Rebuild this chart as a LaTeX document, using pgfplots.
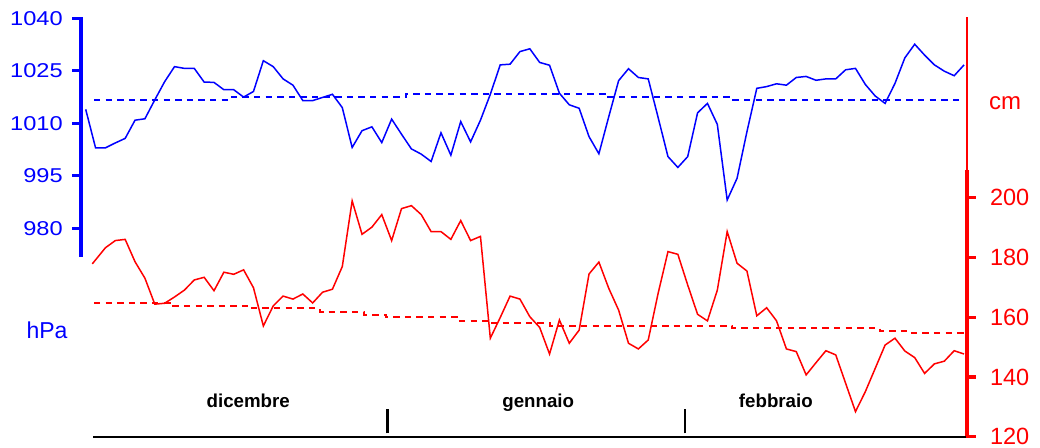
\documentclass[border=0pt]{standalone}
\usepackage{pgfplots}
\pgfplotsset{compat=1.18}
\usepackage{fontspec}
\setmainfont{Liberation Sans}
\newfontfamily\wideLS[FakeStretch=1.18]{Liberation Sans}
\definecolor{pblue}{RGB}{0,0,255}
\definecolor{pred}{RGB}{255,0,0}
\begin{document}
\begin{tikzpicture}
\path[use as bounding box] (0,0) rectangle (520pt,224pt);
% ---------------- red axis (cm) ----------------
\begin{axis}[
  at={(40.5pt,5.65pt)}, anchor=south west,
  scale only axis, width=443pt, height=209.7pt,
  xmin=-0.476, xmax=89.3, ymin=120, ymax=260.5,
  axis y line*=right, axis x line=none, xtick=\empty,
  ytick={120,140,160,180,200},
  yticklabels={120,140,160,180,200},
  y axis line style={pred, line width=0.6pt},
  ytick style={pred, line width=1pt},
  major tick length=4pt, tick align=outside,
  yticklabel style={font=\fontsize{11.75}{12}\selectfont, text=pred, anchor=west, xshift=4pt},
  clip=false,
]
\draw[pred, line width=1.65pt] (axis cs:89.3,120) -- (axis cs:89.3,209.4);
\draw[black, line width=1pt] (axis cs:0.74,120) -- (axis cs:89.3,120);
\draw[black, line width=1.3pt] (axis cs:30.55,121.1) -- (axis cs:30.55,129.2);
\draw[black, line width=1.3pt] (axis cs:60.71,121.1) -- (axis cs:60.71,129.2);
\node[anchor=base, font=\bfseries\fontsize{9.35}{10}\selectfont] at (axis cs:16.47,129.85) {dicembre};
\node[anchor=base, font=\bfseries\fontsize{9.35}{10}\selectfont] at (axis cs:45.85,129.85) {gennaio};
\node[anchor=base, font=\bfseries\fontsize{9.35}{10}\selectfont] at (axis cs:69.93,129.85) {febbraio};
% mean level (dashed)
\addplot[pred, line width=1pt, dash pattern=on 3.2pt off 2.6pt] coordinates {
(0.85,164.9) (8.5,164.9) (8.5,163.9) (16.6,163.9) (16.6,163.0) (23.7,163.0)
(23.7,161.9) (28.2,161.9) (28.2,160.9) (30.4,160.9) (30.4,160.2) (37.6,160.2)
(37.6,158.9) (40.7,158.9) (40.7,158.0) (47.0,158.0) (47.0,157.0) (65.5,157.0)
(65.5,156.3) (80.5,156.3) (80.5,155.4) (83.7,155.4) (83.7,154.8) (89.1,154.8)
};
% water level
\addplot[pred, line width=0.75pt] coordinates {
(0.67,177.9) (2,183.3) (3,185.7) (4,186.1) (5,178.6) (6,173.1) (7,164.4) (8,164.7)
(9,166.8) (10,169.1) (11,172.5) (12,173.4) (13,168.9) (14,175.1) (15,174.4) (16,175.9)
(17,169.9) (18,157.1) (19,163.8) (20,167.1) (21,166.1) (22,167.8) (23,164.8) (24,168.4)
(25,169.4) (26,177.0) (27,199.0) (28,187.8) (29,190.2) (30,194.4) (31,185.7) (32,196.4)
(33,197.4) (34,194.4) (35,188.7) (36,188.7) (37,186.1) (38,192.4) (39,185.7) (40,187.1)
(41,153.0) (42,159.9) (43,167.1) (44,166.1) (45,160.2) (46,156.6) (47,147.7) (48,159.1)
(49,151.3) (50,155.7) (51,174.5) (52,178.5) (53,169.7) (54,162.4) (55,151.3) (56,149.4)
(57,152.4) (58,168.0) (59,182.0) (60,181.1) (61,170.8) (62,161.0) (63,158.8) (64,169.1)
(65,188.7) (66,178.1) (67,175.5) (68,160.5) (69,163.2) (70,158.8) (71,149.4) (72,148.5)
(73,140.7) (74,144.8) (75,148.8) (76,147.4) (77,137.9) (78,128.4) (79,135.1) (80,142.9)
(81,150.7) (82,153.0) (83,148.7) (84,146.5) (85,141.2) (86,144.4) (87,145.3) (88,148.8)
(89,147.7)
};
\end{axis}
% ---------------- blue axis (hPa) ----------------
\begin{axis}[
  at={(40.5pt,95.65pt)}, anchor=south west,
  scale only axis, width=443pt, height=119.7pt,
  xmin=-0.476, xmax=89.3, ymin=971.9, ymax=1040.3,
  axis y line*=left, axis x line=none, xtick=\empty,
  ytick={980,995,1010,1025,1040},
  yticklabels={980,995,1010,1025,1040},
  y axis line style={pblue, line width=1.65pt},
  ytick style={pblue, line width=1pt},
  major tick length=4pt, tick align=outside,
  yticklabel style={font=\wideLS\fontsize{10}{11}\selectfont, text=pblue, anchor=east, xshift=-1.6pt},
  clip=false,
]
\addplot[pblue, line width=1pt, dash pattern=on 3.2pt off 2.6pt] coordinates {
(0.85,1016.7) (14.6,1016.7) (14.6,1017.4) (32.5,1017.4) (32.5,1018.3) (52.6,1018.3)
(52.6,1017.4) (65.6,1017.4) (65.6,1016.7) (89.0,1016.7)
};
\addplot[pblue, line width=0.75pt] coordinates {
(0,1014.0) (1,1003.0) (2,1003.0) (3,1004.4) (4,1005.7) (5,1010.9) (6,1011.3) (7,1016.7)
(8,1021.9) (9,1026.2) (10,1025.7) (11,1025.7) (12,1021.8) (13,1021.7) (14,1019.6) (15,1019.6)
(16,1017.5) (17,1019.1) (18,1027.9) (19,1026.2) (20,1022.7) (21,1020.9) (22,1016.5) (23,1016.5)
(24,1017.4) (25,1018.3) (26,1014.5) (27,1003.1) (28,1007.9) (29,1009.0) (30,1004.5) (31,1011.2)
(32,1006.9) (33,1002.7) (34,1001.2) (35,999.1) (36,1007.3) (37,1000.9) (38,1010.5) (39,1004.7)
(40,1010.9) (41,1018.3) (42,1026.7) (43,1026.9) (44,1030.5) (45,1031.3) (46,1027.4) (47,1026.6)
(48,1018.6) (49,1015.3) (50,1014.3) (51,1006.2) (52,1001.3) (53,1011.9) (54,1022.2) (55,1025.6)
(56,1023.1) (57,1022.7) (58,1011.7) (59,1000.5) (60,997.4) (61,1000.5) (62,1013.0) (63,1015.7)
(64,1009.7) (65,988.1) (66,994.3) (67,1007.6) (68,1020.0) (69,1020.5) (70,1021.3) (71,1020.9)
(72,1023.1) (73,1023.4) (74,1022.3) (75,1022.7) (76,1022.7) (77,1025.3) (78,1025.7) (79,1021.1)
(80,1017.8) (81,1015.7) (82,1021.4) (83,1028.7) (84,1032.6) (85,1029.5) (86,1026.7) (87,1024.9)
(88,1023.6) (89,1026.7)
};
\end{axis}
% tick marks of both value axes
\fill[pblue] (36.2pt,109.03pt) rectangle (41pt,110.63pt);
\fill[pblue] (36.2pt,135.28pt) rectangle (41pt,136.88pt);
\fill[pblue] (36.2pt,161.53pt) rectangle (41pt,163.13pt);
\fill[pblue] (36.2pt,187.78pt) rectangle (41pt,189.38pt);
\fill[pblue] (36.2pt,214.03pt) rectangle (41pt,215.63pt);
\fill[pred] (483pt,4.85pt) rectangle (487.8pt,6.45pt);
\fill[pred] (483pt,34.7pt) rectangle (487.8pt,36.3pt);
\fill[pred] (483pt,64.55pt) rectangle (487.8pt,66.15pt);
\fill[pred] (483pt,94.4pt) rectangle (487.8pt,96pt);
\fill[pred] (483pt,124.25pt) rectangle (487.8pt,125.85pt);
\node[anchor=base, text=pred, font=\fontsize{12}{13}\selectfont] at (502.5pt,169.35pt) {cm};
\node[anchor=base, text=pblue, font=\fontsize{11.5}{12}\selectfont] at (23.5pt,54.5pt) {hPa};
\end{tikzpicture}
\end{document}
